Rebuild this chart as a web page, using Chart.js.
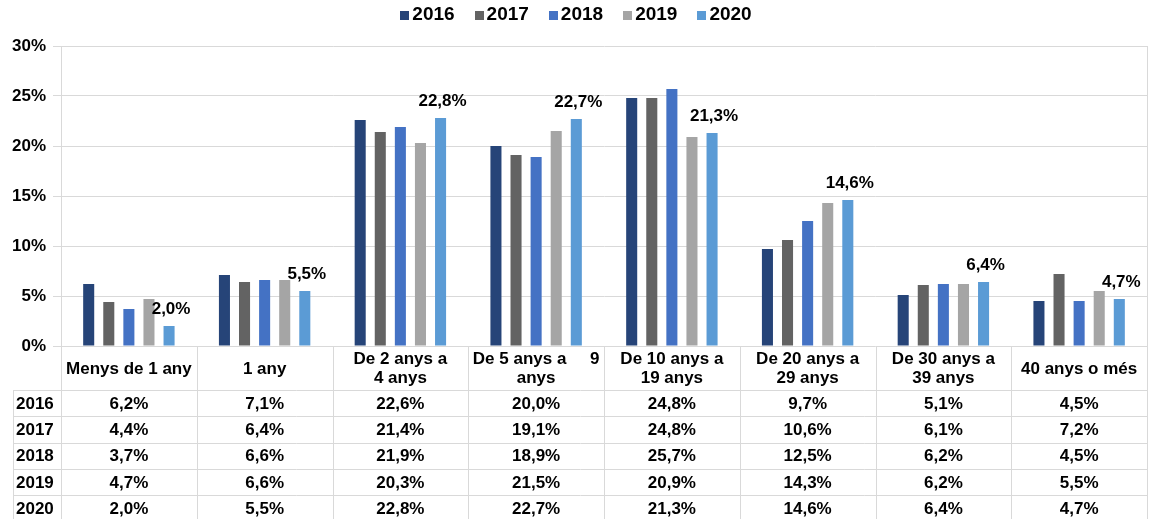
<!DOCTYPE html>
<html>
<head>
<meta charset="utf-8">
<script src="https://cdn.jsdelivr.net/npm/chart.js@4"></script>
<style>
  html, body { margin: 0; padding: 0; background: #fff; }
  #wrap { width: 1152px; height: 519px; position: relative; }
</style>
</head>
<body>
<div id="wrap"><canvas id="chart"></canvas></div>
<script>
const categories = [
    'Menys de 1 any',
    '1 any',
    ['De 2 anys a', '4 anys'],
    ['De 5 anys a     9', 'anys'],
    ['De 10 anys a', '19 anys'],
    ['De 20 anys a', '29 anys'],
    ['De 30 anys a', '39 anys'],
    '40 anys o més'
];
const years = ['2016', '2017', '2018', '2019', '2020'];
const v2016 = [6.2, 7.1, 22.6, 20.0, 24.8, 9.7, 5.1, 4.5];
const v2017 = [4.4, 6.4, 21.4, 19.1, 24.8, 10.6, 6.1, 7.2];
const v2018 = [3.7, 6.6, 21.9, 18.9, 25.7, 12.5, 6.2, 4.5];
const v2019 = [4.7, 6.6, 20.3, 21.5, 20.9, 14.3, 6.2, 5.5];
const v2020 = [2.0, 5.5, 22.8, 22.7, 21.3, 14.6, 6.4, 4.7];
const yTicks = [0, 5, 10, 15, 20, 25, 30];

const series = [v2016, v2017, v2018, v2019, v2020];
const colors = ['#264478', '#636363', '#4472C4', '#A5A5A5', '#5B9BD5'];
const FAMILY = '"Liberation Sans", Arial, sans-serif';
const FONT = 'bold 17px ' + FAMILY;
const LEGEND_FONT = 'bold 19px ' + FAMILY;
const GRID = '#d9d9d9';

function pct(v) {
    return v.toFixed(1).replace('.', ',') + '%';
}

// legend, data table under the plot, labels on the last series
const tablePlugin = {
    id: 'dataTable',
    afterDatasetsDraw(chart) {
        const ctx = chart.ctx;
        const x = chart.scales.x;
        const area = chart.chartArea;
        const n = categories.length;
        const step = (area.right - area.left) / n;
        const top = area.bottom;
        const headH = 44;
        const rowH = 26.3;
        const yearLeft = 13;
        const bottom = top + headH + rowH * years.length;

        ctx.save();

        // legend
        ctx.font = LEGEND_FONT;
        ctx.textBaseline = 'middle';
        ctx.textAlign = 'left';
        const box = 9, gapText = 3, gapItem = 20;
        const widths = years.map(y => box + gapText + ctx.measureText(y).width);
        const total = widths.reduce((a, b) => a + b, 0) + gapItem * (years.length - 1);
        let lx = chart.width / 2 - total / 2;
        const ly = 15;
        years.forEach((yr, i) => {
            ctx.fillStyle = colors[i];
            ctx.fillRect(Math.round(lx), ly - 4, box, box);
            ctx.fillStyle = '#000';
            ctx.fillText(yr, lx + box + gapText, ly);
            lx += widths[i] + gapItem;
        });

        ctx.strokeStyle = GRID;
        ctx.lineWidth = 1;
        ctx.beginPath();
        // right border of the plot
        ctx.moveTo(area.right + 0.5, area.top);
        ctx.lineTo(area.right + 0.5, bottom);
        // column lines
        for (let i = 0; i < n; i++) {
            const cx = Math.round(area.left + step * i) + 0.5;
            ctx.moveTo(cx, top);
            ctx.lineTo(cx, bottom);
        }
        ctx.moveTo(yearLeft + 0.5, top + headH);
        ctx.lineTo(yearLeft + 0.5, bottom);
        // row lines
        for (let r = 0; r <= years.length; r++) {
            const ry = Math.round(top + headH + rowH * r) + 0.5;
            ctx.moveTo(yearLeft, ry);
            ctx.lineTo(area.right + 1, ry);
        }
        ctx.stroke();

        ctx.fillStyle = '#000';
        ctx.font = FONT;
        ctx.textAlign = 'center';
        ctx.textBaseline = 'middle';
        for (let i = 0; i < n; i++) {
            const cx = x.getPixelForValue(i);
            const lab = categories[i];
            const lines = Array.isArray(lab) ? lab : [lab];
            const lh = 19;
            const y0 = top + headH / 2 - (lines.length - 1) * lh / 2 + 1;
            lines.forEach((t, k) => ctx.fillText(t, cx, y0 + k * lh));
            series.forEach((s, r) => {
                ctx.fillText(pct(s[i]), cx, top + headH + rowH * r + rowH / 2 + 1);
            });
        }
        ctx.textAlign = 'left';
        years.forEach((yr, r) => {
            ctx.fillText(yr, yearLeft + 3, top + headH + rowH * r + rowH / 2 + 1);
        });

        // value labels on 2020 bars
        const meta = chart.getDatasetMeta(4);
        ctx.textAlign = 'center';
        ctx.textBaseline = 'bottom';
        meta.data.forEach((bar, i) => {
            ctx.fillText(pct(v2020[i]), bar.x + 2, bar.y - 8);
        });
        ctx.restore();
    }
};

new Chart(document.getElementById('chart'), {
    type: 'bar',
    data: {
        labels: categories,
        datasets: years.map((yr, i) => ({
            label: yr,
            data: series[i],
            backgroundColor: colors[i],
            borderWidth: 0,
            categoryPercentage: 0.74,
            barPercentage: 0.55
        }))
    },
    options: {
        responsive: true,
        maintainAspectRatio: false,
        animation: false,
        layout: { padding: { top: 46, right: 5, bottom: 173, left: 0 } },
        plugins: {
            legend: { display: false },
            tooltip: { enabled: false }
        },
        scales: {
            x: {
                display: false
            },
            y: {
                min: 0,
                max: 30,
                afterBuildTicks(scale) {
                    scale.ticks = yTicks.map(v => ({ value: v }));
                },
                afterFit(scale) {
                    scale.width = 61;
                },
                grid: { color: GRID, tickLength: 8 },
                border: { color: GRID },
                ticks: {
                    color: '#000',
                    padding: 7,
                    font: { family: FAMILY, size: 17, weight: 'bold' },
                    callback: v => v + '%'
                }
            }
        }
    },
    plugins: [tablePlugin]
});
</script>
</body>
</html>
